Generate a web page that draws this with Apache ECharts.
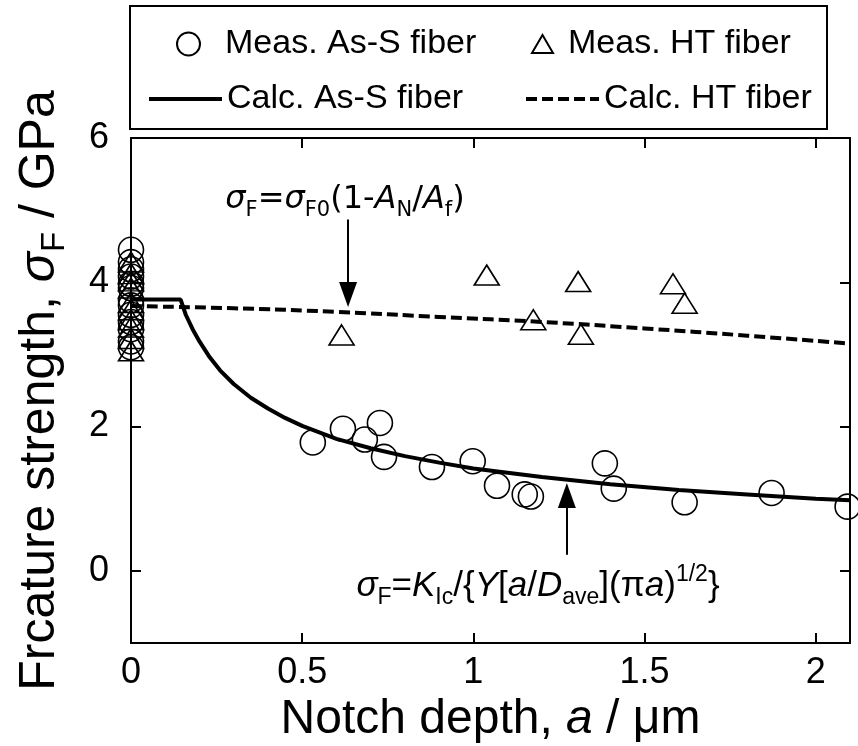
<!DOCTYPE html>
<html>
<head>
<meta charset="utf-8">
<script src="https://cdn.jsdelivr.net/npm/echarts@6/dist/echarts.min.js"></script>
<style>
  html, body { margin: 0; padding: 0; background: #fff; }
  #chart { width: 858px; height: 746px; }
</style>
</head>
<body>
<div id="chart"></div>
<script>
const FONT = '"Liberation Sans", Arial, Helvetica, sans-serif'
const FONT2 = '"DejaVu Sans", Verdana, sans-serif'

const xTicks = [0, 0.5, 1, 1.5, 2]
const yTicks = [0, 2, 4, 6]

// measured, as-spun fiber (notch depth um, strength GPa)
const measAsSDepth = [0, 0, 0, 0, 0, 0, 0, 0, 0, 0, 0, 0, 0,
  0.531, 0.619, 0.683, 0.727, 0.739, 0.879, 0.998, 1.069, 1.150, 1.168, 1.384, 1.410, 1.617, 1.871, 2.093]
const measAsSStrength = [4.45, 4.28, 4.18, 4.08, 3.98, 3.92, 3.75, 3.68, 3.55, 3.45, 3.35, 3.18, 3.10,
  1.78, 1.97, 1.82, 2.05, 1.58, 1.44, 1.52, 1.18, 1.06, 1.03, 1.49, 1.14, 0.95, 1.08, 0.89]

// measured, heat treated fiber
const measHTDepth = [0, 0, 0, 0, 0, 0, 0, 0, 0, 0,
  0.615, 1.039, 1.175, 1.306, 1.314, 1.583, 1.617]
const measHTStrength = [4.28, 4.12, 4.02, 3.92, 3.72, 3.62, 3.48, 3.38, 3.22, 3.05,
  3.27, 4.10, 3.48, 4.01, 3.28, 3.98, 3.71]

// calculated curves
const calcAsSDepth = [0, 0.145, 0.16, 0.18, 0.2, 0.23, 0.26, 0.3, 0.35, 0.4, 0.45, 0.5,
  0.6, 0.7, 0.8, 0.9, 1.0, 1.2, 1.4, 1.6, 1.8, 2.0, 2.1]
const calcAsSStrength = [3.76, 3.76, 3.55, 3.35, 3.18, 2.96, 2.78, 2.59, 2.40, 2.25, 2.12, 2.01,
  1.83, 1.70, 1.59, 1.50, 1.42, 1.30, 1.20, 1.12, 1.06, 1.00, 0.98]
const calcHTDepth = [0, 0.3, 0.6, 0.9, 1.2, 1.5, 1.8, 2.1]
const calcHTStrength = [3.67, 3.64, 3.59, 3.52, 3.45, 3.36, 3.26, 3.15]

const pairs = (xs, ys) => xs.map((x, i) => [x, ys[i]])

const black = '#000'
const dash = [11, 5]
const markerStyle = { color: 'rgba(0,0,0,0)', borderColor: black, borderWidth: 1.6, opacity: 1 }

function xAxisOf(position, showLabel) {
  return {
    type: 'value',
    position: position,
    min: 0,
    max: 2.1,
    axisLine: { show: true, onZero: false, lineStyle: { color: black, width: 2 } },
    axisTick: { show: true, inside: true, length: 10, customValues: xTicks, lineStyle: { color: black, width: 2 } },
    axisLabel: { show: showLabel, customValues: xTicks, margin: 12, fontSize: 36, fontFamily: FONT, color: black },
    splitLine: { show: false }
  }
}

function yAxisOf(position, showLabel) {
  return {
    type: 'value',
    position: position,
    min: -1,
    max: 6,
    axisLine: { show: true, onZero: false, lineStyle: { color: black, width: 2 } },
    axisTick: { show: true, inside: true, length: 10, customValues: yTicks, lineStyle: { color: black, width: 2 } },
    axisLabel: { show: showLabel, customValues: yTicks, margin: 22, fontSize: 36, fontFamily: FONT, color: black },
    splitLine: { show: false }
  }
}

const bottomX = xAxisOf('bottom', true)
bottomX.name = 'Notch depth, {i|a} / μm'
bottomX.nameLocation = 'middle'
bottomX.nameGap = 40
bottomX.nameTextStyle = {
  fontSize: 48, fontFamily: FONT, color: black,
  rich: { i: { fontStyle: 'italic', fontSize: 48, fontFamily: FONT, color: black } }
}

const leftY = yAxisOf('left', true)
leftY.name = 'Frcature strength, {i|σ}{sub|F} / GPa'
leftY.nameLocation = 'middle'
leftY.nameRotate = 90
leftY.nameGap = 60
leftY.nameTextStyle = {
  fontSize: 50, fontFamily: FONT, color: black,
  rich: {
    i: { fontStyle: 'italic', fontSize: 50, fontFamily: FONT, color: black },
    sub: { fontSize: 33, fontFamily: FONT, color: black, padding: [28, 0, 0, 0] }
  }
}

const legendBase = {
  orient: 'horizontal',
  padding: 0,
  itemGap: 0,
  selectedMode: false,
  textStyle: { fontSize: 34, fontFamily: FONT, color: black }
}
const lineLegend = Object.assign({}, legendBase, {
  itemWidth: 73,
  itemHeight: 22,
  itemStyle: { opacity: 0 },
  lineStyle: { width: 4, color: black }
})

function richFor(family, size, subSize, subDrop, supRise) {
  return {
    i: { fontStyle: 'italic', fontSize: size, fontFamily: family, fill: black },
    sub: { fontSize: subSize, fontFamily: family, fill: black, padding: [subDrop, 0, 0, 0] },
    sup: { fontSize: subSize, fontFamily: family, fill: black, padding: [0, 0, supRise, 0] }
  }
}

const chart = echarts.init(document.getElementById('chart'))
chart.setOption({
  animation: false,
  backgroundColor: '#fff',
  grid: { left: 131, right: 8, top: 138, bottom: 103, containLabel: false, outerBoundsMode: 'none' },
  xAxis: [bottomX, xAxisOf('top', false)],
  yAxis: [leftY, yAxisOf('right', false)],
  legend: [
    Object.assign({}, legendBase, {
      data: ['Meas. As-S fiber'], left: 176, top: 27, itemWidth: 23, itemHeight: 23,
      textStyle: { fontSize: 34, fontFamily: FONT, color: black, padding: [0, 0, 0, 20] }
    }),
    Object.assign({}, legendBase, {
      data: ['Meas. HT fiber'], left: 531, top: 27, itemWidth: 21, itemHeight: 18,
      textStyle: { fontSize: 34, fontFamily: FONT, color: black, padding: [0, 0, 0, 10] }
    }),
    Object.assign({}, lineLegend, { data: ['Calc. As-S fiber'], left: 147, top: 82 }),
    Object.assign({}, lineLegend, { data: ['Calc. HT fiber'], left: 524, top: 82 })
  ],
  graphic: [
    {
      type: 'rect',
      silent: true,
      shape: { x: 130, y: 6, width: 697, height: 123 },
      style: { fill: 'none', stroke: black, lineWidth: 2 }
    },
    {
      type: 'text',
      silent: true,
      x: 345,
      y: 200,
      style: {
        text: '{i|σ}{sub|F}={i|σ}{sub|F0}(1-{i|A}{sub|N}/{i|A}{sub|f})',
        align: 'center',
        verticalAlign: 'middle',
        fontSize: 32,
        fontFamily: FONT2,
        fill: black,
        rich: richFor(FONT2, 32, 21, 22, 20)
      }
    },
    {
      type: 'text',
      silent: true,
      x: 538,
      y: 586,
      style: {
        text: '{i|σ}{sub|F}={i|K}{sub|Ic}/{{i|Y}[{i|a}/{i|D}{sub|ave}](π{i|a}){sup|1/2}}',
        align: 'center',
        verticalAlign: 'middle',
        fontSize: 35,
        fontFamily: FONT,
        fill: black,
        rich: richFor(FONT, 35, 23, 24, 22)
      }
    }
  ],
  series: [
    {
      name: 'Meas. As-S fiber',
      type: 'scatter',
      silent: true,
      symbol: 'circle',
      symbolSize: 25,
      itemStyle: markerStyle,
      data: pairs(measAsSDepth, measAsSStrength)
    },
    {
      name: 'Meas. HT fiber',
      type: 'scatter',
      silent: true,
      symbol: 'triangle',
      symbolSize: [25, 20],
      itemStyle: markerStyle,
      data: pairs(measHTDepth, measHTStrength)
    },
    {
      name: 'Calc. As-S fiber',
      type: 'line',
      silent: true,
      symbol: 'none',
      smooth: false,
      lineStyle: { color: black, width: 4 },
      itemStyle: { color: black },
      data: pairs(calcAsSDepth, calcAsSStrength)
    },
    {
      name: 'Calc. HT fiber',
      type: 'line',
      silent: true,
      symbol: 'none',
      smooth: true,
      lineStyle: { color: black, width: 4, type: dash },
      itemStyle: { color: black },
      data: pairs(calcHTDepth, calcHTStrength),
      markLine: {
        silent: true,
        animation: false,
        symbolSize: [18, 25],
        label: { show: false },
        lineStyle: { color: black, width: 2, type: 'solid' },
        data: [
          [{ coord: [0.634, 4.87], symbol: 'none' }, { coord: [0.634, 3.83], symbol: 'triangle' }],
          [{ coord: [1.273, 0.225], symbol: 'none' }, { coord: [1.273, 1.045], symbol: 'triangle' }]
        ]
      }
    }
  ]
})
</script>
</body>
</html>
